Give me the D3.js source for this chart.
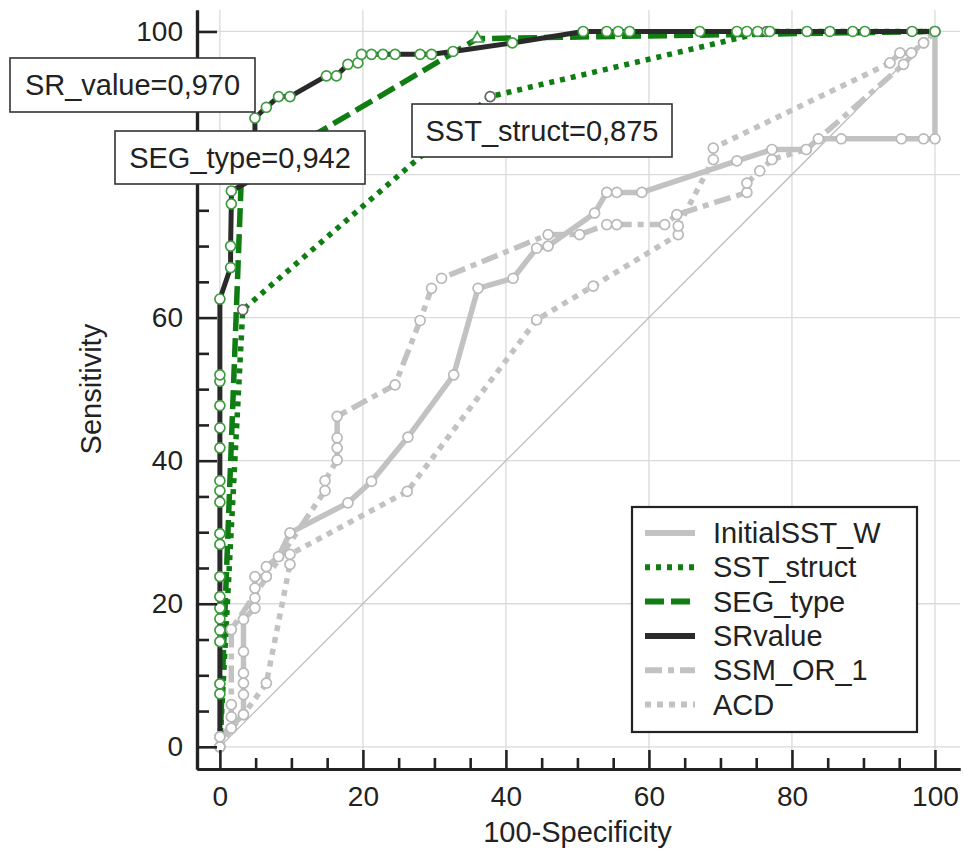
<!DOCTYPE html>
<html>
<head>
<meta charset="utf-8">
<script src="https://cdn.jsdelivr.net/npm/d3@7"></script>
<style>
  body { margin: 0; background: #fff; }
  text { font-family: "Liberation Sans", Arial, sans-serif; fill: #222; }
</style>
</head>
<body>
<svg id="chart"></svg>
<script>
// ---- data (100-Specificity, Sensitivity) ----
let initialX = [0, 0, 3.3, 3.3, 3.3, 3.3, 3.3, 3.3, 4.9, 4.9, 4.9, 4.9, 6.5, 6.5, 8.2, 9.8, 17.9, 21.2, 26.3, 32.7, 36.1, 41, 44.3, 45.9, 52.4, 54.1, 55.5, 59, 72.3, 77.2, 82, 83.7, 86.9, 95.3, 98.4, 100, 100]
let initialY = [0, 1.4, 4.5, 7.3, 8.9, 10.3, 13.3, 17.8, 19.4, 20.8, 22.2, 23.8, 23.8, 25.2, 26.6, 29.9, 34.1, 37.1, 43.3, 52, 64.1, 65.5, 69.7, 70, 74.6, 77.5, 77.5, 77.5, 81.9, 83.5, 83.5, 85, 85, 85, 85, 85, 100]

let sstX = [0, 3.2, 37.8, 76.5, 100]
let sstY = [0, 61.1, 90.9, 100, 100]

let segX = [0, 3, 36, 100]
let segY = [0, 79.5, 99, 100]

let srX = [0, 0, 0, 0, 0, 0, 0, 0, 0, 0, 0, 0, 0, 0, 0, 0, 0, 0, 0, 0, 1.5, 1.5, 1.6, 1.6, 4.9, 4.9, 6.5, 8.2, 9.8, 14.9, 16.3, 17.9, 19.3, 19.8, 21.2, 22.8, 24.5, 28, 29.6, 32.6, 40.9, 50.8, 54.1, 55.7, 57.3, 67.1, 72.3, 73.7, 75.2, 76.9, 82.1, 85.3, 88.5, 90.2, 96.8, 100]
let srY = [0, 7.4, 8.8, 14.7, 16.3, 17.9, 19.4, 21, 23.8, 28.3, 29.8, 34.2, 35.8, 37.2, 41.8, 44.6, 47.7, 51.1, 52, 62.6, 67, 70, 75.9, 77.7, 79.5, 87.9, 89.4, 90.9, 90.9, 93.8, 93.8, 95.4, 95.6, 96.8, 96.8, 96.8, 96.8, 96.8, 96.8, 97.2, 98.4, 100, 100, 100, 100, 100, 100, 100, 100, 100, 100, 100, 100, 100, 100, 100]

let ssmX = [0, 0, 1.6, 1.6, 1.6, 1.6, 14.7, 14.7, 16.4, 16.4, 16.4, 16.4, 24.5, 28, 29.6, 31, 45.9, 50.3, 54.1, 55.5, 62.2, 63.9, 73.7, 73.7, 75.5, 77.2, 82, 95.6, 98.4, 100]
let ssmY = [0, 1.4, 2.6, 4.2, 5.9, 16.4, 35.8, 37.2, 40.1, 41.8, 43.2, 46.2, 50.6, 59.6, 64.1, 65.5, 71.6, 71.6, 73, 73, 73, 74.4, 77.5, 78.8, 80.5, 82.1, 83.5, 95.4, 98.4, 100]

let acdX = [0, 1.6, 3.3, 6.5, 9.8, 9.8, 26.2, 44.3, 52.2, 64.1, 64.1, 69, 69, 93.7, 95.1, 96.7, 98.4, 100]
let acdY = [0, 2.6, 4.5, 8.9, 25.5, 26.9, 35.7, 59.7, 64.4, 71.6, 72.8, 82.1, 83.7, 95.6, 97, 97, 98.4, 100]

let seriesNames = ['InitialSST_W', 'SST_struct', 'SEG_type', 'SRvalue', 'SSM_OR_1', 'ACD']
let aucLabels = ['SR_value=0,970', 'SEG_type=0,942', 'SST_struct=0,875']
let majorTicks = [0, 20, 40, 60, 80, 100]
let minorTicks = [5, 10, 15, 25, 30, 35, 45, 50, 55, 65, 70, 75, 85, 90, 95]

// ---- layout ----
let width = 963
let height = 854
let svg = d3.select('#chart').attr('width', width).attr('height', height)

let xScale = d3.scaleLinear().domain([-3.2, 103.5]).range([197, 960])
let yScale = d3.scaleLinear().domain([-3.1, 103]).range([769, 10])

let gray = '#c2c2c2'
let green = '#0f7d12'
let styles = {
  InitialSST_W: { x: initialX, y: initialY, color: gray, dash: null, marker: 'circle', mstroke: '#b9b9b9' },
  SST_struct: { x: sstX, y: sstY, color: green, dash: '5,6', marker: 'circle', mstroke: '#666' },
  SEG_type: { x: segX, y: segY, color: green, dash: '19,7', marker: 'triangle', mstroke: '#3d9b3d' },
  SRvalue: { x: srX, y: srY, color: '#2a2a2a', dash: null, marker: 'circle', mstroke: '#3d9b3d' },
  SSM_OR_1: { x: ssmX, y: ssmY, color: gray, dash: '17,6,6,6', marker: 'circle', mstroke: '#b9b9b9' },
  ACD: { x: acdX, y: acdY, color: gray, dash: '6,6', marker: 'circle', mstroke: '#b9b9b9' }
}

// grid
let grid = svg.append('g')
grid.selectAll('.gx').data(majorTicks).enter().append('line')
  .attr('x1', d => xScale(d)).attr('x2', d => xScale(d))
  .attr('y1', yScale(103)).attr('y2', yScale(-3.1))
  .attr('stroke', '#dadada').attr('stroke-width', 1.3)
grid.selectAll('.gy').data(majorTicks).enter().append('line')
  .attr('x1', xScale(-3.2)).attr('x2', xScale(103.5))
  .attr('y1', d => yScale(d)).attr('y2', d => yScale(d))
  .attr('stroke', '#dadada').attr('stroke-width', 1.3)

// diagonal reference
svg.append('line')
  .attr('x1', xScale(0)).attr('y1', yScale(0))
  .attr('x2', xScale(100)).attr('y2', yScale(100))
  .attr('stroke', '#bdbdbd').attr('stroke-width', 1.3)

let line = d3.line().x(d => xScale(d[0])).y(d => yScale(d[1]))

let drawOrder = ['ACD', 'SSM_OR_1', 'InitialSST_W', 'SST_struct', 'SEG_type', 'SRvalue']
drawOrder.forEach(name => {
  let s = styles[name]
  let pts = s.x.map((v, i) => [v, s.y[i]])
  svg.append('path')
    .datum(pts)
    .attr('d', line)
    .attr('fill', 'none')
    .attr('stroke', s.color)
    .attr('stroke-width', name === 'SRvalue' ? 5 : 5.5)
    .attr('stroke-dasharray', s.dash)
    .attr('stroke-linejoin', 'round')
})

drawOrder.forEach(name => {
  let s = styles[name]
  let pts = s.x.map((v, i) => [v, s.y[i]])
  if (name === 'SRvalue') pts = pts.slice(1)
  if (name === 'SST_struct' || name === 'SEG_type') pts = pts.slice(1, -1)
  let sym = d3.symbol().type(s.marker === 'triangle' ? d3.symbolTriangle : d3.symbolCircle)
    .size(s.marker === 'triangle' ? 60 : 78)
  svg.append('g').selectAll('path')
    .data(pts)
    .enter()
    .append('path')
    .attr('d', sym)
    .attr('transform', d => 'translate(' + xScale(d[0]) + ',' + yScale(d[1]) + ')')
    .attr('fill', '#fff')
    .attr('stroke', s.mstroke)
    .attr('stroke-width', 1.7)
})

// axes (the y=80 label sits under the SEG_type box in the original, so it is left blank)
let xAxis = d3.axisBottom(xScale).tickValues(majorTicks).tickSize(-19).tickSizeOuter(0).tickPadding(17)
let xMinor = d3.axisBottom(xScale).tickValues(minorTicks).tickSize(-11).tickSizeOuter(0).tickFormat('')
let yAxis = d3.axisLeft(yScale).tickValues(majorTicks).tickSize(-20).tickSizeOuter(0).tickPadding(14)
  .tickFormat(d => d === 80 ? '' : d)
let yMinor = d3.axisLeft(yScale).tickValues(minorTicks).tickSize(-12).tickSizeOuter(0).tickFormat('')

svg.append('g').attr('transform', 'translate(0,' + yScale(-3.1) + ')').call(xMinor)
svg.append('g').attr('transform', 'translate(' + xScale(-3.2) + ',0)').call(yMinor)
svg.append('g').attr('transform', 'translate(0,' + yScale(-3.1) + ')').call(xAxis)
svg.append('g').attr('transform', 'translate(' + xScale(-3.2) + ',0)').call(yAxis)

svg.selectAll('.domain').attr('stroke', '#222').attr('stroke-width', 3.2)
svg.selectAll('.tick line').attr('stroke', '#222').attr('stroke-width', 2.6)
svg.selectAll('.tick text').style('font-size', '28px').attr('fill', '#222')

// axis titles
svg.append('text')
  .attr('x', xScale(50))
  .attr('y', 842)
  .style('text-anchor', 'middle')
  .style('font-size', '29px')
  .text('100-Specificity')

svg.append('text')
  .attr('transform', 'translate(101,' + yScale(50) + ') rotate(-90)')
  .style('text-anchor', 'middle')
  .style('font-size', '29px')
  .text('Sensitivity')

// AUC annotation boxes
let boxes = [
  { x: 10, y: 58, w: 245, h: 54 },
  { x: 115, y: 131, w: 250, h: 53 },
  { x: 412, y: 104, w: 260, h: 53 }
]
aucLabels.forEach((label, i) => {
  let b = boxes[i]
  svg.append('rect')
    .attr('x', b.x).attr('y', b.y).attr('width', b.w).attr('height', b.h)
    .attr('fill', '#fff').attr('stroke', '#333').attr('stroke-width', 1.6)
  svg.append('text')
    .attr('x', b.x + b.w / 2)
    .attr('y', b.y + b.h / 2 + 10)
    .style('text-anchor', 'middle')
    .style('font-size', '29px')
    .text(label)
})

// legend
let legend = svg.append('g').attr('transform', 'translate(632,507)')
legend.append('rect')
  .attr('width', 285).attr('height', 225)
  .attr('fill', '#fff').attr('stroke', '#222').attr('stroke-width', 2.2)
seriesNames.forEach((name, i) => {
  let s = styles[name]
  let cy = 26 + i * 34.3
  legend.append('line')
    .attr('x1', 13).attr('x2', 63)
    .attr('y1', cy).attr('y2', cy)
    .attr('stroke', s.color)
    .attr('stroke-width', 6)
    .attr('stroke-dasharray', s.dash)
  legend.append('text')
    .attr('x', 81)
    .attr('y', cy + 10)
    .style('font-size', '29px')
    .text(name)
})
</script>
</body>
</html>
